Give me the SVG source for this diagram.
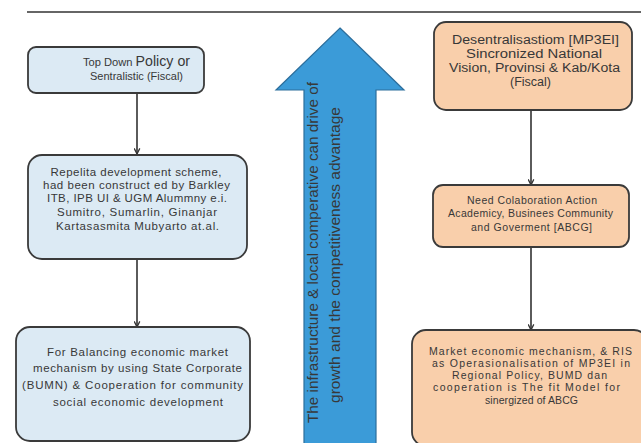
<svg xmlns="http://www.w3.org/2000/svg" width="641" height="443" viewBox="0 0 641 443">
<defs>
<style>
.bl{fill:#dceaf4;stroke:#3a3a3a;stroke-width:1.8}
.or{fill:#f9cfab;stroke:#3a3a3a;stroke-width:1.8}
text{font-family:"Liberation Sans",Arial,sans-serif;fill:#383838;text-anchor:middle}
.c{stroke:#333;stroke-width:1.6;fill:none;marker-end:url(#ah)}
</style>
<marker id="ah" viewBox="0 0 10 10" refX="9" refY="5" markerWidth="7" markerHeight="7" orient="auto" markerUnits="userSpaceOnUse">
<path d="M1,1 L9,5 L1,9" fill="none" stroke="#333" stroke-width="1.8"/>
</marker>
</defs>
<rect width="641" height="443" fill="#fff"/>
<line x1="27" y1="12" x2="641" y2="12" stroke="#666" stroke-width="2"/>

<g id="connectors">
<line class="c" x1="137" y1="93" x2="137" y2="154"/>
<line class="c" x1="137" y1="259" x2="137" y2="327"/>
<line class="c" x1="531" y1="110" x2="531" y2="185"/>
<line class="c" x1="531" y1="247" x2="531" y2="330"/>
</g>

<g id="bigArrow">
<polygon points="340,28 404,90 376,90 376,445 304,445 304,90 276,90" fill="#3b9bd8" stroke="#2c6e9c" stroke-width="1.2"/>
<text transform="translate(318,252.5) rotate(-90)" font-size="14" fill="#222" textLength="341" lengthAdjust="spacingAndGlyphs">The infrastructure &amp; local comperative  can drive of</text>
<text transform="translate(340,255) rotate(-90)" font-size="14" fill="#222" textLength="296" lengthAdjust="spacingAndGlyphs">growth and the competitiveness advantage</text>
</g>

<g id="n1">
<rect class="bl" x="28" y="47" width="176" height="46" rx="8"/>
<text x="136.5" y="66" textLength="107" lengthAdjust="spacingAndGlyphs"><tspan font-size="11">Top Down </tspan><tspan font-size="14">Policy or</tspan></text>
<text x="136.5" y="80" font-size="11" textLength="93" lengthAdjust="spacingAndGlyphs">Sentralistic (Fiscal)</text>
</g>

<g id="n2">
<rect class="bl" x="28" y="155" width="219" height="104" rx="14"/>
<g font-size="11.5">
<text x="136" y="176" textLength="171" lengthAdjust="spacing">Repelita development scheme,</text>
<text x="136.5" y="189" textLength="187" lengthAdjust="spacing">had been construct ed by Barkley</text>
<text x="137" y="202" textLength="180" lengthAdjust="spacing">ITB, IPB UI &amp; UGM Alummny e.i.</text>
<text x="137" y="216" textLength="160" lengthAdjust="spacing">Sumitro, Sumarlin, Ginanjar</text>
<text x="137.5" y="230" textLength="163" lengthAdjust="spacing">Kartasasmita  Mubyarto at.al.</text>
</g>
</g>

<g id="n3">
<rect class="bl" x="16" y="327" width="234" height="114" rx="14"/>
<g font-size="11.5">
<text x="137.5" y="356" textLength="181" lengthAdjust="spacing">For Balancing economic market</text>
<text x="137.5" y="372" textLength="209" lengthAdjust="spacing">mechanism by using State Corporate</text>
<text x="132.5" y="389" textLength="221" lengthAdjust="spacing">(BUMN) &amp; Cooperation  for community</text>
<text x="138" y="406" textLength="170" lengthAdjust="spacing">social economic development</text>
</g>
</g>

<g id="r1">
<rect class="or" x="434" y="22" width="198" height="88" rx="12"/>
<g font-size="12">
<text x="535.5" y="44" textLength="167" lengthAdjust="spacingAndGlyphs">Desentralisastiom [MP3EI]</text>
<text x="534" y="57.5" textLength="136" lengthAdjust="spacingAndGlyphs">Sincronized National</text>
<text x="534.5" y="71.5" textLength="171" lengthAdjust="spacingAndGlyphs">Vision, Provinsi &amp; Kab/Kota</text>
<text x="530.5" y="86" textLength="41" lengthAdjust="spacingAndGlyphs">(Fiscal)</text>
</g>
</g>

<g id="r2">
<rect class="or" x="433" y="185" width="196" height="62" rx="10"/>
<g font-size="10.5">
<text x="532" y="204" textLength="130" lengthAdjust="spacing">Need Colaboration Action</text>
<text x="530.5" y="217" textLength="165" lengthAdjust="spacing">Academicy, Businees Community</text>
<text x="531.5" y="231" textLength="121" lengthAdjust="spacing">and Goverment [ABCG]</text>
</g>
</g>

<g id="r3">
<rect class="or" x="412" y="330" width="236" height="116" rx="14"/>
<g font-size="10.5">
<text x="530.5" y="355" textLength="203" lengthAdjust="spacing">Market economic mechanism, &amp; RIS</text>
<text x="531" y="367" textLength="198" lengthAdjust="spacing">as Operasionalisation of  MP3EI in</text>
<text x="529.5" y="379" textLength="155" lengthAdjust="spacing">Regional Policy, BUMD dan</text>
<text x="526.5" y="391" textLength="187" lengthAdjust="spacing">cooperation is The fit Model for</text>
<text x="531.5" y="404" textLength="93" lengthAdjust="spacing">sinergized of ABCG</text>
</g>
</g>
</svg>
